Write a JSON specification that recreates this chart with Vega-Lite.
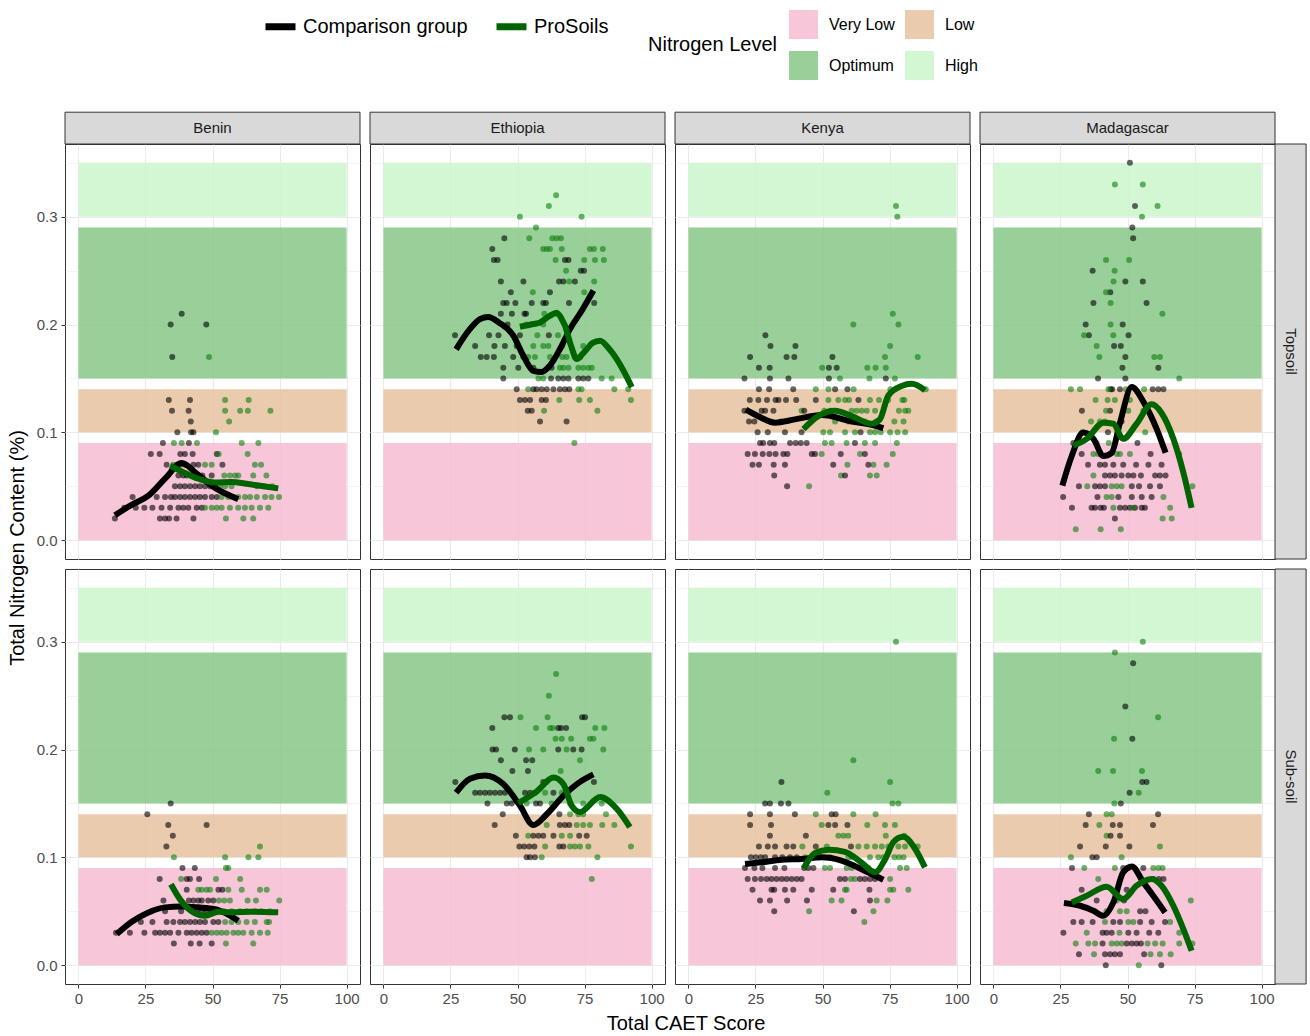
{
"$schema": "https://vega.github.io/schema/vega-lite/v6.json",
"padding": {"left": 7, "top": 8, "right": 2, "bottom": 2},
"config": {
 "font": "Liberation Sans",
 "view": {"stroke": "#333333", "strokeWidth": 1},
 "axis": {"domain": false, "grid": true, "gridColor": "#EBEBEB", "tickColor": "#333333", "tickSize": 4, "tickWidth": 1, "labelColor": "#4D4D4D", "labelFontSize": 15, "titleFontSize": 20, "titleFontWeight": "normal", "titleColor": "#000000"},
 "axisX": {"labelPadding": 3, "labelFlush": false},
 "axisY": {"labelPadding": 4},
 "header": {"titleFontSize": 20, "titleFontWeight": "normal", "titleColor": "#000000", "titleFont": "Liberation Sans", "labelPadding": 0},
 "legend": {"labelFont": "Liberation Sans", "labelColor": "#000000", "titleColor": "#000000"}
},
"spacing": {"row": 10, "column": 10},
"bounds": "flush",
"data": {"values": [
{"t":"st","c":"B","s":"T","lab":"Benin"},{"t":"st","c":"E","s":"T","lab":"Ethiopia"},{"t":"st","c":"K","s":"T","lab":"Kenya"},{"t":"st","c":"M","s":"T","lab":"Madagascar"},
{"t":"sr","c":"M","s":"T","lab":"Topsoil"},{"t":"sr","c":"M","s":"S","lab":"Sub-soil"},
{"t":"b","c":"B","s":"T","lv":"Very Low","y1":0,"y2":0.09},{"t":"b","c":"B","s":"T","lv":"Low","y1":0.1,"y2":0.14},{"t":"b","c":"B","s":"T","lv":"Optimum","y1":0.15,"y2":0.29},{"t":"b","c":"B","s":"T","lv":"High","y1":0.3,"y2":0.35},
{"t":"b","c":"E","s":"T","lv":"Very Low","y1":0,"y2":0.09},{"t":"b","c":"E","s":"T","lv":"Low","y1":0.1,"y2":0.14},{"t":"b","c":"E","s":"T","lv":"Optimum","y1":0.15,"y2":0.29},{"t":"b","c":"E","s":"T","lv":"High","y1":0.3,"y2":0.35},
{"t":"b","c":"K","s":"T","lv":"Very Low","y1":0,"y2":0.09},{"t":"b","c":"K","s":"T","lv":"Low","y1":0.1,"y2":0.14},{"t":"b","c":"K","s":"T","lv":"Optimum","y1":0.15,"y2":0.29},{"t":"b","c":"K","s":"T","lv":"High","y1":0.3,"y2":0.35},
{"t":"b","c":"M","s":"T","lv":"Very Low","y1":0,"y2":0.09},{"t":"b","c":"M","s":"T","lv":"Low","y1":0.1,"y2":0.14},{"t":"b","c":"M","s":"T","lv":"Optimum","y1":0.15,"y2":0.29},{"t":"b","c":"M","s":"T","lv":"High","y1":0.3,"y2":0.35},
{"t":"b","c":"B","s":"S","lv":"Very Low","y1":0,"y2":0.09},{"t":"b","c":"B","s":"S","lv":"Low","y1":0.1,"y2":0.14},{"t":"b","c":"B","s":"S","lv":"Optimum","y1":0.15,"y2":0.29},{"t":"b","c":"B","s":"S","lv":"High","y1":0.3,"y2":0.35},
{"t":"b","c":"E","s":"S","lv":"Very Low","y1":0,"y2":0.09},{"t":"b","c":"E","s":"S","lv":"Low","y1":0.1,"y2":0.14},{"t":"b","c":"E","s":"S","lv":"Optimum","y1":0.15,"y2":0.29},{"t":"b","c":"E","s":"S","lv":"High","y1":0.3,"y2":0.35},
{"t":"b","c":"K","s":"S","lv":"Very Low","y1":0,"y2":0.09},{"t":"b","c":"K","s":"S","lv":"Low","y1":0.1,"y2":0.14},{"t":"b","c":"K","s":"S","lv":"Optimum","y1":0.15,"y2":0.29},{"t":"b","c":"K","s":"S","lv":"High","y1":0.3,"y2":0.35},
{"t":"b","c":"M","s":"S","lv":"Very Low","y1":0,"y2":0.09},{"t":"b","c":"M","s":"S","lv":"Low","y1":0.1,"y2":0.14},{"t":"b","c":"M","s":"S","lv":"Optimum","y1":0.15,"y2":0.29},{"t":"b","c":"M","s":"S","lv":"High","y1":0.3,"y2":0.35},

{"t":"l","c":"B","s":"T","g":"C","x":13.6,"y":0.023},{"t":"l","c":"B","s":"T","g":"C","x":20,"y":0.033},{"t":"l","c":"B","s":"T","g":"C","x":26,"y":0.041},{"t":"l","c":"B","s":"T","g":"C","x":32.3,"y":0.057},{"t":"l","c":"B","s":"T","g":"C","x":38.5,"y":0.0715},{"t":"l","c":"B","s":"T","g":"C","x":44,"y":0.062},{"t":"l","c":"B","s":"T","g":"C","x":50,"y":0.05},{"t":"l","c":"B","s":"T","g":"C","x":59.6,"y":0.038},
{"t":"l","c":"B","s":"T","g":"P","x":34.2,"y":0.069},{"t":"l","c":"B","s":"T","g":"P","x":40,"y":0.062},{"t":"l","c":"B","s":"T","g":"P","x":44.7,"y":0.057},{"t":"l","c":"B","s":"T","g":"P","x":50.9,"y":0.0535},{"t":"l","c":"B","s":"T","g":"P","x":57,"y":0.054},{"t":"l","c":"B","s":"T","g":"P","x":63.4,"y":0.052},{"t":"l","c":"B","s":"T","g":"P","x":69,"y":0.05},{"t":"l","c":"B","s":"T","g":"P","x":74.5,"y":0.048},
{"t":"l","c":"E","s":"T","g":"C","x":27.1,"y":0.177},{"t":"l","c":"E","s":"T","g":"C","x":32,"y":0.195},{"t":"l","c":"E","s":"T","g":"C","x":36,"y":0.205},{"t":"l","c":"E","s":"T","g":"C","x":39.1,"y":0.207},{"t":"l","c":"E","s":"T","g":"C","x":43,"y":0.202},{"t":"l","c":"E","s":"T","g":"C","x":48.4,"y":0.19},{"t":"l","c":"E","s":"T","g":"C","x":52,"y":0.172},{"t":"l","c":"E","s":"T","g":"C","x":55.9,"y":0.157},{"t":"l","c":"E","s":"T","g":"C","x":59,"y":0.156},{"t":"l","c":"E","s":"T","g":"C","x":62.1,"y":0.162},{"t":"l","c":"E","s":"T","g":"C","x":66,"y":0.178},{"t":"l","c":"E","s":"T","g":"C","x":69.6,"y":0.196},{"t":"l","c":"E","s":"T","g":"C","x":74,"y":0.213},{"t":"l","c":"E","s":"T","g":"C","x":78.3,"y":0.2315},
{"t":"l","c":"E","s":"T","g":"P","x":50.9,"y":0.198},{"t":"l","c":"E","s":"T","g":"P","x":55,"y":0.2},{"t":"l","c":"E","s":"T","g":"P","x":58.4,"y":0.202},{"t":"l","c":"E","s":"T","g":"P","x":62,"y":0.208},{"t":"l","c":"E","s":"T","g":"P","x":64.6,"y":0.211},{"t":"l","c":"E","s":"T","g":"P","x":66.5,"y":0.205},{"t":"l","c":"E","s":"T","g":"P","x":67.7,"y":0.199},{"t":"l","c":"E","s":"T","g":"P","x":70,"y":0.18},{"t":"l","c":"E","s":"T","g":"P","x":72.1,"y":0.168},{"t":"l","c":"E","s":"T","g":"P","x":74,"y":0.172},{"t":"l","c":"E","s":"T","g":"P","x":75.8,"y":0.177},{"t":"l","c":"E","s":"T","g":"P","x":78,"y":0.183},{"t":"l","c":"E","s":"T","g":"P","x":80.8,"y":0.185},{"t":"l","c":"E","s":"T","g":"P","x":84,"y":0.178},{"t":"l","c":"E","s":"T","g":"P","x":87,"y":0.168},{"t":"l","c":"E","s":"T","g":"P","x":90,"y":0.155},{"t":"l","c":"E","s":"T","g":"P","x":92.6,"y":0.142},
{"t":"l","c":"K","s":"T","g":"C","x":21.4,"y":0.121},{"t":"l","c":"K","s":"T","g":"C","x":26,"y":0.115},{"t":"l","c":"K","s":"T","g":"C","x":32.3,"y":0.109},{"t":"l","c":"K","s":"T","g":"C","x":39.7,"y":0.112},{"t":"l","c":"K","s":"T","g":"C","x":49.7,"y":0.116},{"t":"l","c":"K","s":"T","g":"C","x":60.9,"y":0.11},{"t":"l","c":"K","s":"T","g":"C","x":68.3,"y":0.107},{"t":"l","c":"K","s":"T","g":"C","x":72.7,"y":0.104},
{"t":"l","c":"K","s":"T","g":"P","x":42.9,"y":0.103},{"t":"l","c":"K","s":"T","g":"P","x":48.4,"y":0.115},{"t":"l","c":"K","s":"T","g":"P","x":54.7,"y":0.12},{"t":"l","c":"K","s":"T","g":"P","x":60.9,"y":0.115},{"t":"l","c":"K","s":"T","g":"P","x":68.3,"y":0.108},{"t":"l","c":"K","s":"T","g":"P","x":71.4,"y":0.112},{"t":"l","c":"K","s":"T","g":"P","x":74.5,"y":0.134},{"t":"l","c":"K","s":"T","g":"P","x":79.5,"y":0.143},{"t":"l","c":"K","s":"T","g":"P","x":83.3,"y":0.145},{"t":"l","c":"K","s":"T","g":"P","x":88.2,"y":0.139},
{"t":"l","c":"M","s":"T","g":"C","x":25.7,"y":0.0505},{"t":"l","c":"M","s":"T","g":"C","x":29.2,"y":0.078},{"t":"l","c":"M","s":"T","g":"C","x":33.5,"y":0.0998},{"t":"l","c":"M","s":"T","g":"C","x":37.3,"y":0.094},{"t":"l","c":"M","s":"T","g":"C","x":41,"y":0.078},{"t":"l","c":"M","s":"T","g":"C","x":44.1,"y":0.081},{"t":"l","c":"M","s":"T","g":"C","x":47.2,"y":0.109},{"t":"l","c":"M","s":"T","g":"C","x":51.6,"y":0.142},{"t":"l","c":"M","s":"T","g":"C","x":56,"y":0.128},{"t":"l","c":"M","s":"T","g":"C","x":60.9,"y":0.103},{"t":"l","c":"M","s":"T","g":"C","x":64.2,"y":0.081},
{"t":"l","c":"M","s":"T","g":"P","x":29.8,"y":0.0876},{"t":"l","c":"M","s":"T","g":"P","x":34.8,"y":0.094},{"t":"l","c":"M","s":"T","g":"P","x":41,"y":0.109},{"t":"l","c":"M","s":"T","g":"P","x":44.7,"y":0.108},{"t":"l","c":"M","s":"T","g":"P","x":48.4,"y":0.094},{"t":"l","c":"M","s":"T","g":"P","x":53.4,"y":0.108},{"t":"l","c":"M","s":"T","g":"P","x":59,"y":0.126},{"t":"l","c":"M","s":"T","g":"P","x":62.7,"y":0.118},{"t":"l","c":"M","s":"T","g":"P","x":67.1,"y":0.094},{"t":"l","c":"M","s":"T","g":"P","x":70.8,"y":0.063},{"t":"l","c":"M","s":"T","g":"P","x":73.9,"y":0.03},
{"t":"l","c":"B","s":"S","g":"C","x":14.3,"y":0.0288},{"t":"l","c":"B","s":"S","g":"C","x":19.9,"y":0.0402},{"t":"l","c":"B","s":"S","g":"C","x":26.1,"y":0.0489},{"t":"l","c":"B","s":"S","g":"C","x":32.3,"y":0.0536},{"t":"l","c":"B","s":"S","g":"C","x":38.5,"y":0.0545},{"t":"l","c":"B","s":"S","g":"C","x":44.7,"y":0.0536},{"t":"l","c":"B","s":"S","g":"C","x":50.9,"y":0.052},{"t":"l","c":"B","s":"S","g":"C","x":55,"y":0.048},{"t":"l","c":"B","s":"S","g":"C","x":59.6,"y":0.0412},
{"t":"l","c":"B","s":"S","g":"P","x":34.5,"y":0.075},{"t":"l","c":"B","s":"S","g":"P","x":37.9,"y":0.061},{"t":"l","c":"B","s":"S","g":"P","x":42.2,"y":0.05},{"t":"l","c":"B","s":"S","g":"P","x":47.2,"y":0.0458},{"t":"l","c":"B","s":"S","g":"P","x":52.2,"y":0.0496},{"t":"l","c":"B","s":"S","g":"P","x":57.1,"y":0.049},{"t":"l","c":"B","s":"S","g":"P","x":64.6,"y":0.0496},{"t":"l","c":"B","s":"S","g":"P","x":74.5,"y":0.049},
{"t":"l","c":"E","s":"S","g":"C","x":27.1,"y":0.16},{"t":"l","c":"E","s":"S","g":"C","x":32.3,"y":0.173},{"t":"l","c":"E","s":"S","g":"C","x":37.9,"y":0.176},{"t":"l","c":"E","s":"S","g":"C","x":44.7,"y":0.168},{"t":"l","c":"E","s":"S","g":"C","x":50.9,"y":0.148},{"t":"l","c":"E","s":"S","g":"C","x":55.9,"y":0.13},{"t":"l","c":"E","s":"S","g":"C","x":60.9,"y":0.14},{"t":"l","c":"E","s":"S","g":"C","x":67.1,"y":0.157},{"t":"l","c":"E","s":"S","g":"C","x":73.3,"y":0.17},{"t":"l","c":"E","s":"S","g":"C","x":78.3,"y":0.177},
{"t":"l","c":"E","s":"S","g":"P","x":50.3,"y":0.1504},{"t":"l","c":"E","s":"S","g":"P","x":57.1,"y":0.161},{"t":"l","c":"E","s":"S","g":"P","x":63.4,"y":0.174},{"t":"l","c":"E","s":"S","g":"P","x":67.1,"y":0.168},{"t":"l","c":"E","s":"S","g":"P","x":70.2,"y":0.148},{"t":"l","c":"E","s":"S","g":"P","x":73.3,"y":0.142},{"t":"l","c":"E","s":"S","g":"P","x":80.8,"y":0.156},{"t":"l","c":"E","s":"S","g":"P","x":87,"y":0.145},{"t":"l","c":"E","s":"S","g":"P","x":91.9,"y":0.128},
{"t":"l","c":"K","s":"S","g":"C","x":21.1,"y":0.0938},{"t":"l","c":"K","s":"S","g":"C","x":27.3,"y":0.0954},{"t":"l","c":"K","s":"S","g":"C","x":34.8,"y":0.0978},{"t":"l","c":"K","s":"S","g":"C","x":42.2,"y":0.0984},{"t":"l","c":"K","s":"S","g":"C","x":49.7,"y":0.1},{"t":"l","c":"K","s":"S","g":"C","x":57.1,"y":0.097},{"t":"l","c":"K","s":"S","g":"C","x":64.6,"y":0.089},{"t":"l","c":"K","s":"S","g":"C","x":72.7,"y":0.0792},
{"t":"l","c":"K","s":"S","g":"P","x":42.9,"y":0.0897},{"t":"l","c":"K","s":"S","g":"P","x":47.2,"y":0.104},{"t":"l","c":"K","s":"S","g":"P","x":52.2,"y":0.107},{"t":"l","c":"K","s":"S","g":"P","x":58.4,"y":0.105},{"t":"l","c":"K","s":"S","g":"P","x":64.6,"y":0.095},{"t":"l","c":"K","s":"S","g":"P","x":69.6,"y":0.0862},{"t":"l","c":"K","s":"S","g":"P","x":73.3,"y":0.098},{"t":"l","c":"K","s":"S","g":"P","x":76.4,"y":0.114},{"t":"l","c":"K","s":"S","g":"P","x":80.1,"y":0.119},{"t":"l","c":"K","s":"S","g":"P","x":84.5,"y":0.108},{"t":"l","c":"K","s":"S","g":"P","x":88.2,"y":0.0907},
{"t":"l","c":"M","s":"S","g":"C","x":26.3,"y":0.0576},{"t":"l","c":"M","s":"S","g":"C","x":32.3,"y":0.0551},{"t":"l","c":"M","s":"S","g":"C","x":37.3,"y":0.0505},{"t":"l","c":"M","s":"S","g":"C","x":41,"y":0.0458},{"t":"l","c":"M","s":"S","g":"C","x":44.7,"y":0.058},{"t":"l","c":"M","s":"S","g":"C","x":48.4,"y":0.0861},{"t":"l","c":"M","s":"S","g":"C","x":51.6,"y":0.0916},{"t":"l","c":"M","s":"S","g":"C","x":55.9,"y":0.0768},{"t":"l","c":"M","s":"S","g":"C","x":59.6,"y":0.0644},{"t":"l","c":"M","s":"S","g":"C","x":64,"y":0.0489},
{"t":"l","c":"M","s":"S","g":"P","x":29.2,"y":0.0582},{"t":"l","c":"M","s":"S","g":"P","x":34.8,"y":0.0644},{"t":"l","c":"M","s":"S","g":"P","x":42.2,"y":0.0727},{"t":"l","c":"M","s":"S","g":"P","x":48.4,"y":0.0613},{"t":"l","c":"M","s":"S","g":"P","x":53.4,"y":0.0737},{"t":"l","c":"M","s":"S","g":"P","x":59,"y":0.0799},{"t":"l","c":"M","s":"S","g":"P","x":62.7,"y":0.0737},{"t":"l","c":"M","s":"S","g":"P","x":67.1,"y":0.0551},{"t":"l","c":"M","s":"S","g":"P","x":70.8,"y":0.0337},{"t":"l","c":"M","s":"S","g":"P","x":73.9,"y":0.0134},

{"c":"B","s":"T","g":"C","x":38.5,"y":0.21},{"c":"B","s":"T","g":"C","x":34.4,"y":0.2},{"c":"B","s":"T","g":"C","x":47.7,"y":0.2},{"c":"B","s":"T","g":"C","x":35,"y":0.17},{"c":"B","s":"T","g":"C","x":33.7,"y":0.13},{"c":"B","s":"T","g":"C","x":41.6,"y":0.13},{"c":"B","s":"T","g":"C","x":34.9,"y":0.12},{"c":"B","s":"T","g":"C","x":41.1,"y":0.12},{"c":"B","s":"T","g":"C","x":41.9,"y":0.11},{"c":"B","s":"T","g":"C","x":36.9,"y":0.1},{"c":"B","s":"T","g":"C","x":42,"y":0.1},{"c":"B","s":"T","g":"C","x":42.9,"y":0.1},{"c":"B","s":"T","g":"C","x":31.5,"y":0.09},{"c":"B","s":"T","g":"C","x":41.2,"y":0.09},{"c":"B","s":"T","g":"C","x":27,"y":0.08},{"c":"B","s":"T","g":"C","x":30.3,"y":0.08},{"c":"B","s":"T","g":"C","x":38,"y":0.08},{"c":"B","s":"T","g":"C","x":39.7,"y":0.08},{"c":"B","s":"T","g":"C","x":42.6,"y":0.08},{"c":"B","s":"T","g":"C","x":51.6,"y":0.08},{"c":"B","s":"T","g":"C","x":32.9,"y":0.07},{"c":"B","s":"T","g":"C","x":37.9,"y":0.07},{"c":"B","s":"T","g":"C","x":39.7,"y":0.07},{"c":"B","s":"T","g":"C","x":42.9,"y":0.07},{"c":"B","s":"T","g":"C","x":44.7,"y":0.07},{"c":"B","s":"T","g":"C","x":53.7,"y":0.07},{"c":"B","s":"T","g":"C","x":37.3,"y":0.06},{"c":"B","s":"T","g":"C","x":39.1,"y":0.06},{"c":"B","s":"T","g":"C","x":40.4,"y":0.06},{"c":"B","s":"T","g":"C","x":44.1,"y":0.06},{"c":"B","s":"T","g":"C","x":46.2,"y":0.06},{"c":"B","s":"T","g":"C","x":49.7,"y":0.06},{"c":"B","s":"T","g":"C","x":36,"y":0.05},{"c":"B","s":"T","g":"C","x":37.9,"y":0.05},{"c":"B","s":"T","g":"C","x":39.7,"y":0.05},{"c":"B","s":"T","g":"C","x":41.6,"y":0.05},{"c":"B","s":"T","g":"C","x":43.5,"y":0.05},{"c":"B","s":"T","g":"C","x":45.3,"y":0.05},{"c":"B","s":"T","g":"C","x":47.2,"y":0.05},{"c":"B","s":"T","g":"C","x":49.1,"y":0.05},{"c":"B","s":"T","g":"C","x":50.9,"y":0.05},{"c":"B","s":"T","g":"C","x":20.2,"y":0.04},{"c":"B","s":"T","g":"C","x":29.2,"y":0.04},{"c":"B","s":"T","g":"C","x":32.3,"y":0.04},{"c":"B","s":"T","g":"C","x":34.5,"y":0.04},{"c":"B","s":"T","g":"C","x":36,"y":0.04},{"c":"B","s":"T","g":"C","x":37.9,"y":0.04},{"c":"B","s":"T","g":"C","x":39.7,"y":0.04},{"c":"B","s":"T","g":"C","x":41.6,"y":0.04},{"c":"B","s":"T","g":"C","x":43.5,"y":0.04},{"c":"B","s":"T","g":"C","x":45.3,"y":0.04},{"c":"B","s":"T","g":"C","x":47.2,"y":0.04},{"c":"B","s":"T","g":"C","x":49.7,"y":0.04},{"c":"B","s":"T","g":"C","x":51.6,"y":0.04},{"c":"B","s":"T","g":"C","x":17.1,"y":0.03},{"c":"B","s":"T","g":"C","x":21.4,"y":0.03},{"c":"B","s":"T","g":"C","x":24.6,"y":0.03},{"c":"B","s":"T","g":"C","x":27.6,"y":0.03},{"c":"B","s":"T","g":"C","x":31,"y":0.03},{"c":"B","s":"T","g":"C","x":34.2,"y":0.03},{"c":"B","s":"T","g":"C","x":37.3,"y":0.03},{"c":"B","s":"T","g":"C","x":39.1,"y":0.03},{"c":"B","s":"T","g":"C","x":41,"y":0.03},{"c":"B","s":"T","g":"C","x":44.1,"y":0.03},{"c":"B","s":"T","g":"C","x":46,"y":0.03},{"c":"B","s":"T","g":"C","x":13.6,"y":0.02},{"c":"B","s":"T","g":"C","x":30.4,"y":0.02},{"c":"B","s":"T","g":"C","x":32.3,"y":0.02},{"c":"B","s":"T","g":"C","x":33.8,"y":0.02},{"c":"B","s":"T","g":"C","x":36.6,"y":0.02},{"c":"B","s":"T","g":"C","x":42.9,"y":0.02},
{"c":"B","s":"T","g":"P","x":48.7,"y":0.17},{"c":"B","s":"T","g":"P","x":54.7,"y":0.13},{"c":"B","s":"T","g":"P","x":63.5,"y":0.13},{"c":"B","s":"T","g":"P","x":54.7,"y":0.12},{"c":"B","s":"T","g":"P","x":60.3,"y":0.12},{"c":"B","s":"T","g":"P","x":63.2,"y":0.12},{"c":"B","s":"T","g":"P","x":71.6,"y":0.12},{"c":"B","s":"T","g":"P","x":56.2,"y":0.11},{"c":"B","s":"T","g":"P","x":51.3,"y":0.1},{"c":"B","s":"T","g":"P","x":35.6,"y":0.09},{"c":"B","s":"T","g":"P","x":38.5,"y":0.09},{"c":"B","s":"T","g":"P","x":44.2,"y":0.09},{"c":"B","s":"T","g":"P","x":60.9,"y":0.09},{"c":"B","s":"T","g":"P","x":67.1,"y":0.09},{"c":"B","s":"T","g":"P","x":52.3,"y":0.08},{"c":"B","s":"T","g":"P","x":63.1,"y":0.08},{"c":"B","s":"T","g":"P","x":35.4,"y":0.07},{"c":"B","s":"T","g":"P","x":47.2,"y":0.07},{"c":"B","s":"T","g":"P","x":49.7,"y":0.07},{"c":"B","s":"T","g":"P","x":65.8,"y":0.07},{"c":"B","s":"T","g":"P","x":68.1,"y":0.07},{"c":"B","s":"T","g":"P","x":54.4,"y":0.06},{"c":"B","s":"T","g":"P","x":56.5,"y":0.06},{"c":"B","s":"T","g":"P","x":58.4,"y":0.06},{"c":"B","s":"T","g":"P","x":59.6,"y":0.06},{"c":"B","s":"T","g":"P","x":65.2,"y":0.06},{"c":"B","s":"T","g":"P","x":70.1,"y":0.06},{"c":"B","s":"T","g":"P","x":52.8,"y":0.05},{"c":"B","s":"T","g":"P","x":54.7,"y":0.05},{"c":"B","s":"T","g":"P","x":57.1,"y":0.05},{"c":"B","s":"T","g":"P","x":66.5,"y":0.05},{"c":"B","s":"T","g":"P","x":69.1,"y":0.05},{"c":"B","s":"T","g":"P","x":72.3,"y":0.05},{"c":"B","s":"T","g":"P","x":53.4,"y":0.04},{"c":"B","s":"T","g":"P","x":55.9,"y":0.04},{"c":"B","s":"T","g":"P","x":57.8,"y":0.04},{"c":"B","s":"T","g":"P","x":59.6,"y":0.04},{"c":"B","s":"T","g":"P","x":62.1,"y":0.04},{"c":"B","s":"T","g":"P","x":64,"y":0.04},{"c":"B","s":"T","g":"P","x":66.5,"y":0.04},{"c":"B","s":"T","g":"P","x":69.6,"y":0.04},{"c":"B","s":"T","g":"P","x":72,"y":0.04},{"c":"B","s":"T","g":"P","x":74.8,"y":0.04},{"c":"B","s":"T","g":"P","x":47.2,"y":0.03},{"c":"B","s":"T","g":"P","x":49.7,"y":0.03},{"c":"B","s":"T","g":"P","x":51.6,"y":0.03},{"c":"B","s":"T","g":"P","x":53.4,"y":0.03},{"c":"B","s":"T","g":"P","x":56.5,"y":0.03},{"c":"B","s":"T","g":"P","x":59.6,"y":0.03},{"c":"B","s":"T","g":"P","x":62.1,"y":0.03},{"c":"B","s":"T","g":"P","x":64.6,"y":0.03},{"c":"B","s":"T","g":"P","x":67.7,"y":0.03},{"c":"B","s":"T","g":"P","x":70.8,"y":0.03},{"c":"B","s":"T","g":"P","x":55,"y":0.02},{"c":"B","s":"T","g":"P","x":61.5,"y":0.02},{"c":"B","s":"T","g":"P","x":65.2,"y":0.02},

{"c":"E","s":"T","g":"P","x":64.4,"y":0.32},{"c":"E","s":"T","g":"P","x":61.7,"y":0.31},{"c":"E","s":"T","g":"P","x":50.9,"y":0.3},{"c":"E","s":"T","g":"P","x":73.9,"y":0.3},{"c":"E","s":"T","g":"P","x":56.9,"y":0.29},{"c":"E","s":"T","g":"P","x":54.4,"y":0.28},{"c":"E","s":"T","g":"P","x":63,"y":0.28},{"c":"E","s":"T","g":"P","x":64.6,"y":0.28},{"c":"E","s":"T","g":"P","x":66.2,"y":0.28},{"c":"E","s":"T","g":"P","x":59.6,"y":0.27},{"c":"E","s":"T","g":"P","x":60.9,"y":0.27},{"c":"E","s":"T","g":"P","x":62.1,"y":0.27},{"c":"E","s":"T","g":"P","x":66.5,"y":0.27},{"c":"E","s":"T","g":"P","x":77,"y":0.27},{"c":"E","s":"T","g":"P","x":78.5,"y":0.27},{"c":"E","s":"T","g":"P","x":81.8,"y":0.27},{"c":"E","s":"T","g":"P","x":64.2,"y":0.26},{"c":"E","s":"T","g":"P","x":74.9,"y":0.26},{"c":"E","s":"T","g":"P","x":78.9,"y":0.26},{"c":"E","s":"T","g":"P","x":82.2,"y":0.26},{"c":"E","s":"T","g":"P","x":68.1,"y":0.25},{"c":"E","s":"T","g":"P","x":69.3,"y":0.24},{"c":"E","s":"T","g":"P","x":78.6,"y":0.24},{"c":"E","s":"T","g":"P","x":55.7,"y":0.23},{"c":"E","s":"T","g":"P","x":74.9,"y":0.23},{"c":"E","s":"T","g":"P","x":60,"y":0.21},{"c":"E","s":"T","g":"P","x":64.6,"y":0.21},{"c":"E","s":"T","g":"P","x":53.4,"y":0.2},{"c":"E","s":"T","g":"P","x":59.6,"y":0.2},{"c":"E","s":"T","g":"P","x":57.4,"y":0.19},{"c":"E","s":"T","g":"P","x":65.1,"y":0.19},{"c":"E","s":"T","g":"P","x":55.9,"y":0.18},{"c":"E","s":"T","g":"P","x":59.6,"y":0.18},{"c":"E","s":"T","g":"P","x":61.5,"y":0.18},{"c":"E","s":"T","g":"P","x":66.7,"y":0.18},{"c":"E","s":"T","g":"P","x":74.5,"y":0.18},{"c":"E","s":"T","g":"P","x":54,"y":0.17},{"c":"E","s":"T","g":"P","x":56.5,"y":0.17},{"c":"E","s":"T","g":"P","x":62.1,"y":0.17},{"c":"E","s":"T","g":"P","x":66.7,"y":0.17},{"c":"E","s":"T","g":"P","x":68.3,"y":0.17},{"c":"E","s":"T","g":"P","x":73.5,"y":0.17},{"c":"E","s":"T","g":"P","x":65.8,"y":0.16},{"c":"E","s":"T","g":"P","x":67.1,"y":0.16},{"c":"E","s":"T","g":"P","x":69,"y":0.16},{"c":"E","s":"T","g":"P","x":72.7,"y":0.16},{"c":"E","s":"T","g":"P","x":74.5,"y":0.16},{"c":"E","s":"T","g":"P","x":76.4,"y":0.16},{"c":"E","s":"T","g":"P","x":77.7,"y":0.16},{"c":"E","s":"T","g":"P","x":57.8,"y":0.15},{"c":"E","s":"T","g":"P","x":59.6,"y":0.15},{"c":"E","s":"T","g":"P","x":81.4,"y":0.15},{"c":"E","s":"T","g":"P","x":85.1,"y":0.15},{"c":"E","s":"T","g":"P","x":54,"y":0.14},{"c":"E","s":"T","g":"P","x":72.7,"y":0.14},{"c":"E","s":"T","g":"P","x":73.9,"y":0.14},{"c":"E","s":"T","g":"P","x":86.1,"y":0.14},{"c":"E","s":"T","g":"P","x":91.3,"y":0.14},{"c":"E","s":"T","g":"P","x":65.6,"y":0.13},{"c":"E","s":"T","g":"P","x":73,"y":0.13},{"c":"E","s":"T","g":"P","x":77,"y":0.13},{"c":"E","s":"T","g":"P","x":92.3,"y":0.13},{"c":"E","s":"T","g":"P","x":59.9,"y":0.12},{"c":"E","s":"T","g":"P","x":79.8,"y":0.12},{"c":"E","s":"T","g":"P","x":71.2,"y":0.09},
{"c":"E","s":"T","g":"C","x":45.1,"y":0.28},{"c":"E","s":"T","g":"C","x":40.6,"y":0.27},{"c":"E","s":"T","g":"C","x":41.2,"y":0.26},{"c":"E","s":"T","g":"C","x":42.6,"y":0.26},{"c":"E","s":"T","g":"C","x":67.7,"y":0.26},{"c":"E","s":"T","g":"C","x":69,"y":0.26},{"c":"E","s":"T","g":"C","x":73.6,"y":0.25},{"c":"E","s":"T","g":"C","x":74.8,"y":0.25},{"c":"E","s":"T","g":"C","x":43.8,"y":0.24},{"c":"E","s":"T","g":"C","x":52.2,"y":0.24},{"c":"E","s":"T","g":"C","x":65.5,"y":0.24},{"c":"E","s":"T","g":"C","x":67.1,"y":0.24},{"c":"E","s":"T","g":"C","x":71.4,"y":0.24},{"c":"E","s":"T","g":"C","x":47.5,"y":0.23},{"c":"E","s":"T","g":"C","x":62.1,"y":0.23},{"c":"E","s":"T","g":"C","x":44.7,"y":0.22},{"c":"E","s":"T","g":"C","x":46,"y":0.22},{"c":"E","s":"T","g":"C","x":49.2,"y":0.22},{"c":"E","s":"T","g":"C","x":55.3,"y":0.22},{"c":"E","s":"T","g":"C","x":59.6,"y":0.22},{"c":"E","s":"T","g":"C","x":60.6,"y":0.22},{"c":"E","s":"T","g":"C","x":69.2,"y":0.22},{"c":"E","s":"T","g":"C","x":78.6,"y":0.22},{"c":"E","s":"T","g":"C","x":43.8,"y":0.21},{"c":"E","s":"T","g":"C","x":47.9,"y":0.21},{"c":"E","s":"T","g":"C","x":52.6,"y":0.21},{"c":"E","s":"T","g":"C","x":53.2,"y":0.21},{"c":"E","s":"T","g":"C","x":46.3,"y":0.2},{"c":"E","s":"T","g":"C","x":26.7,"y":0.19},{"c":"E","s":"T","g":"C","x":39.4,"y":0.19},{"c":"E","s":"T","g":"C","x":42.9,"y":0.19},{"c":"E","s":"T","g":"C","x":50.9,"y":0.19},{"c":"E","s":"T","g":"C","x":61.7,"y":0.19},{"c":"E","s":"T","g":"C","x":34.2,"y":0.18},{"c":"E","s":"T","g":"C","x":41.4,"y":0.18},{"c":"E","s":"T","g":"C","x":45.3,"y":0.18},{"c":"E","s":"T","g":"C","x":49.7,"y":0.18},{"c":"E","s":"T","g":"C","x":36.3,"y":0.17},{"c":"E","s":"T","g":"C","x":38.5,"y":0.17},{"c":"E","s":"T","g":"C","x":41.2,"y":0.17},{"c":"E","s":"T","g":"C","x":48.4,"y":0.17},{"c":"E","s":"T","g":"C","x":52.2,"y":0.17},{"c":"E","s":"T","g":"C","x":71.4,"y":0.17},{"c":"E","s":"T","g":"C","x":44.7,"y":0.16},{"c":"E","s":"T","g":"C","x":50.3,"y":0.16},{"c":"E","s":"T","g":"C","x":55.9,"y":0.16},{"c":"E","s":"T","g":"C","x":62.7,"y":0.16},{"c":"E","s":"T","g":"C","x":44.7,"y":0.15},{"c":"E","s":"T","g":"C","x":62.5,"y":0.15},{"c":"E","s":"T","g":"C","x":65.2,"y":0.15},{"c":"E","s":"T","g":"C","x":67.1,"y":0.15},{"c":"E","s":"T","g":"C","x":69,"y":0.15},{"c":"E","s":"T","g":"C","x":72.7,"y":0.15},{"c":"E","s":"T","g":"C","x":74.5,"y":0.15},{"c":"E","s":"T","g":"C","x":76.4,"y":0.15},{"c":"E","s":"T","g":"C","x":49.7,"y":0.14},{"c":"E","s":"T","g":"C","x":55.9,"y":0.14},{"c":"E","s":"T","g":"C","x":57.1,"y":0.14},{"c":"E","s":"T","g":"C","x":59,"y":0.14},{"c":"E","s":"T","g":"C","x":60.9,"y":0.14},{"c":"E","s":"T","g":"C","x":63.4,"y":0.14},{"c":"E","s":"T","g":"C","x":65.8,"y":0.14},{"c":"E","s":"T","g":"C","x":67.7,"y":0.14},{"c":"E","s":"T","g":"C","x":69.3,"y":0.14},{"c":"E","s":"T","g":"C","x":50.9,"y":0.13},{"c":"E","s":"T","g":"C","x":52.8,"y":0.13},{"c":"E","s":"T","g":"C","x":54.7,"y":0.13},{"c":"E","s":"T","g":"C","x":59,"y":0.13},{"c":"E","s":"T","g":"C","x":60.6,"y":0.13},{"c":"E","s":"T","g":"C","x":53.8,"y":0.12},{"c":"E","s":"T","g":"C","x":55.3,"y":0.12},{"c":"E","s":"T","g":"C","x":58.4,"y":0.11},{"c":"E","s":"T","g":"C","x":68.3,"y":0.11},

{"c":"K","s":"T","g":"P","x":77.4,"y":0.31},{"c":"K","s":"T","g":"P","x":77.9,"y":0.3},{"c":"K","s":"T","g":"P","x":76.2,"y":0.21},{"c":"K","s":"T","g":"P","x":61.5,"y":0.2},{"c":"K","s":"T","g":"P","x":78.3,"y":0.2},{"c":"K","s":"T","g":"P","x":75.2,"y":0.18},{"c":"K","s":"T","g":"P","x":73.3,"y":0.17},{"c":"K","s":"T","g":"P","x":85.5,"y":0.17},{"c":"K","s":"T","g":"P","x":49.9,"y":0.16},{"c":"K","s":"T","g":"P","x":66.7,"y":0.16},{"c":"K","s":"T","g":"P","x":69.8,"y":0.16},{"c":"K","s":"T","g":"P","x":73.6,"y":0.16},{"c":"K","s":"T","g":"P","x":56.5,"y":0.15},{"c":"K","s":"T","g":"P","x":67.5,"y":0.15},{"c":"K","s":"T","g":"P","x":77,"y":0.15},{"c":"K","s":"T","g":"P","x":47.5,"y":0.14},{"c":"K","s":"T","g":"P","x":52.2,"y":0.14},{"c":"K","s":"T","g":"P","x":61.6,"y":0.14},{"c":"K","s":"T","g":"P","x":75.3,"y":0.14},{"c":"K","s":"T","g":"P","x":88.5,"y":0.14},{"c":"K","s":"T","g":"P","x":52.2,"y":0.13},{"c":"K","s":"T","g":"P","x":55.9,"y":0.13},{"c":"K","s":"T","g":"P","x":58.4,"y":0.13},{"c":"K","s":"T","g":"P","x":59.9,"y":0.13},{"c":"K","s":"T","g":"P","x":67.7,"y":0.13},{"c":"K","s":"T","g":"P","x":71.1,"y":0.13},{"c":"K","s":"T","g":"P","x":74.5,"y":0.13},{"c":"K","s":"T","g":"P","x":79.8,"y":0.13},{"c":"K","s":"T","g":"P","x":80.5,"y":0.13},{"c":"K","s":"T","g":"P","x":42.2,"y":0.12},{"c":"K","s":"T","g":"P","x":50.7,"y":0.12},{"c":"K","s":"T","g":"P","x":52.9,"y":0.12},{"c":"K","s":"T","g":"P","x":60.9,"y":0.12},{"c":"K","s":"T","g":"P","x":62.7,"y":0.12},{"c":"K","s":"T","g":"P","x":64.6,"y":0.12},{"c":"K","s":"T","g":"P","x":66.5,"y":0.12},{"c":"K","s":"T","g":"P","x":69.6,"y":0.12},{"c":"K","s":"T","g":"P","x":78.5,"y":0.12},{"c":"K","s":"T","g":"P","x":80.8,"y":0.12},{"c":"K","s":"T","g":"P","x":82,"y":0.12},{"c":"K","s":"T","g":"P","x":54.7,"y":0.11},{"c":"K","s":"T","g":"P","x":59.6,"y":0.11},{"c":"K","s":"T","g":"P","x":62.7,"y":0.11},{"c":"K","s":"T","g":"P","x":65.8,"y":0.11},{"c":"K","s":"T","g":"P","x":70,"y":0.11},{"c":"K","s":"T","g":"P","x":76.8,"y":0.11},{"c":"K","s":"T","g":"P","x":80.2,"y":0.11},{"c":"K","s":"T","g":"P","x":50.3,"y":0.1},{"c":"K","s":"T","g":"P","x":52.8,"y":0.1},{"c":"K","s":"T","g":"P","x":58.4,"y":0.1},{"c":"K","s":"T","g":"P","x":62.1,"y":0.1},{"c":"K","s":"T","g":"P","x":67.7,"y":0.1},{"c":"K","s":"T","g":"P","x":69.6,"y":0.1},{"c":"K","s":"T","g":"P","x":71.7,"y":0.1},{"c":"K","s":"T","g":"P","x":75.2,"y":0.1},{"c":"K","s":"T","g":"P","x":78,"y":0.1},{"c":"K","s":"T","g":"P","x":80.8,"y":0.1},{"c":"K","s":"T","g":"P","x":50.9,"y":0.09},{"c":"K","s":"T","g":"P","x":53.4,"y":0.09},{"c":"K","s":"T","g":"P","x":59,"y":0.09},{"c":"K","s":"T","g":"P","x":65.8,"y":0.09},{"c":"K","s":"T","g":"P","x":69.6,"y":0.09},{"c":"K","s":"T","g":"P","x":77.7,"y":0.09},{"c":"K","s":"T","g":"P","x":49.7,"y":0.08},{"c":"K","s":"T","g":"P","x":64,"y":0.08},{"c":"K","s":"T","g":"P","x":76.2,"y":0.08},{"c":"K","s":"T","g":"P","x":59.3,"y":0.07},{"c":"K","s":"T","g":"P","x":69,"y":0.07},{"c":"K","s":"T","g":"P","x":73.9,"y":0.07},{"c":"K","s":"T","g":"P","x":56.9,"y":0.06},{"c":"K","s":"T","g":"P","x":67.7,"y":0.06},{"c":"K","s":"T","g":"P","x":70.2,"y":0.06},{"c":"K","s":"T","g":"P","x":45,"y":0.05},
{"c":"K","s":"T","g":"C","x":28.7,"y":0.19},{"c":"K","s":"T","g":"C","x":30.6,"y":0.18},{"c":"K","s":"T","g":"C","x":39.9,"y":0.18},{"c":"K","s":"T","g":"C","x":23,"y":0.17},{"c":"K","s":"T","g":"C","x":36.6,"y":0.17},{"c":"K","s":"T","g":"C","x":39.5,"y":0.17},{"c":"K","s":"T","g":"C","x":53.7,"y":0.17},{"c":"K","s":"T","g":"C","x":26.3,"y":0.16},{"c":"K","s":"T","g":"C","x":30.3,"y":0.16},{"c":"K","s":"T","g":"C","x":52.4,"y":0.16},{"c":"K","s":"T","g":"C","x":55.3,"y":0.16},{"c":"K","s":"T","g":"C","x":20.9,"y":0.15},{"c":"K","s":"T","g":"C","x":30.4,"y":0.15},{"c":"K","s":"T","g":"C","x":37.3,"y":0.15},{"c":"K","s":"T","g":"C","x":52.4,"y":0.15},{"c":"K","s":"T","g":"C","x":73.6,"y":0.15},{"c":"K","s":"T","g":"C","x":26.3,"y":0.14},{"c":"K","s":"T","g":"C","x":30.1,"y":0.14},{"c":"K","s":"T","g":"C","x":39.1,"y":0.14},{"c":"K","s":"T","g":"C","x":54.7,"y":0.14},{"c":"K","s":"T","g":"C","x":59.3,"y":0.14},{"c":"K","s":"T","g":"C","x":22.9,"y":0.13},{"c":"K","s":"T","g":"C","x":26.1,"y":0.13},{"c":"K","s":"T","g":"C","x":29.3,"y":0.13},{"c":"K","s":"T","g":"C","x":32.5,"y":0.13},{"c":"K","s":"T","g":"C","x":33.6,"y":0.13},{"c":"K","s":"T","g":"C","x":36.4,"y":0.13},{"c":"K","s":"T","g":"C","x":40.2,"y":0.13},{"c":"K","s":"T","g":"C","x":47.5,"y":0.13},{"c":"K","s":"T","g":"C","x":63.4,"y":0.13},{"c":"K","s":"T","g":"C","x":20.9,"y":0.12},{"c":"K","s":"T","g":"C","x":27.3,"y":0.12},{"c":"K","s":"T","g":"C","x":28.6,"y":0.12},{"c":"K","s":"T","g":"C","x":31.7,"y":0.12},{"c":"K","s":"T","g":"C","x":43.2,"y":0.12},{"c":"K","s":"T","g":"C","x":22.6,"y":0.11},{"c":"K","s":"T","g":"C","x":24.6,"y":0.11},{"c":"K","s":"T","g":"C","x":34.5,"y":0.11},{"c":"K","s":"T","g":"C","x":25.8,"y":0.1},{"c":"K","s":"T","g":"C","x":29.6,"y":0.1},{"c":"K","s":"T","g":"C","x":36,"y":0.1},{"c":"K","s":"T","g":"C","x":42.2,"y":0.1},{"c":"K","s":"T","g":"C","x":64.2,"y":0.1},{"c":"K","s":"T","g":"C","x":26.7,"y":0.09},{"c":"K","s":"T","g":"C","x":27.9,"y":0.09},{"c":"K","s":"T","g":"C","x":30.4,"y":0.09},{"c":"K","s":"T","g":"C","x":32,"y":0.09},{"c":"K","s":"T","g":"C","x":37.9,"y":0.09},{"c":"K","s":"T","g":"C","x":40,"y":0.09},{"c":"K","s":"T","g":"C","x":41.9,"y":0.09},{"c":"K","s":"T","g":"C","x":44.1,"y":0.09},{"c":"K","s":"T","g":"C","x":62.1,"y":0.09},{"c":"K","s":"T","g":"C","x":22.1,"y":0.08},{"c":"K","s":"T","g":"C","x":24.8,"y":0.08},{"c":"K","s":"T","g":"C","x":27.7,"y":0.08},{"c":"K","s":"T","g":"C","x":30.2,"y":0.08},{"c":"K","s":"T","g":"C","x":32.5,"y":0.08},{"c":"K","s":"T","g":"C","x":35.4,"y":0.08},{"c":"K","s":"T","g":"C","x":36.9,"y":0.08},{"c":"K","s":"T","g":"C","x":46,"y":0.08},{"c":"K","s":"T","g":"C","x":47.2,"y":0.08},{"c":"K","s":"T","g":"C","x":56.8,"y":0.08},{"c":"K","s":"T","g":"C","x":65.8,"y":0.08},{"c":"K","s":"T","g":"C","x":23.9,"y":0.07},{"c":"K","s":"T","g":"C","x":26.3,"y":0.07},{"c":"K","s":"T","g":"C","x":31.8,"y":0.07},{"c":"K","s":"T","g":"C","x":36,"y":0.07},{"c":"K","s":"T","g":"C","x":54,"y":0.07},{"c":"K","s":"T","g":"C","x":67.1,"y":0.07},{"c":"K","s":"T","g":"C","x":32,"y":0.06},{"c":"K","s":"T","g":"C","x":58.4,"y":0.06},{"c":"K","s":"T","g":"C","x":36.8,"y":0.05},

{"c":"M","s":"T","g":"C","x":50.9,"y":0.35},{"c":"M","s":"T","g":"C","x":52.8,"y":0.31},{"c":"M","s":"T","g":"C","x":51.8,"y":0.29},{"c":"M","s":"T","g":"C","x":52.1,"y":0.28},{"c":"M","s":"T","g":"C","x":37,"y":0.25},{"c":"M","s":"T","g":"C","x":49.2,"y":0.24},{"c":"M","s":"T","g":"C","x":55.7,"y":0.24},{"c":"M","s":"T","g":"C","x":43.6,"y":0.23},{"c":"M","s":"T","g":"C","x":37.3,"y":0.22},{"c":"M","s":"T","g":"C","x":57.1,"y":0.22},{"c":"M","s":"T","g":"C","x":34.4,"y":0.2},{"c":"M","s":"T","g":"C","x":48.2,"y":0.2},{"c":"M","s":"T","g":"C","x":35.6,"y":0.19},{"c":"M","s":"T","g":"C","x":50.4,"y":0.19},{"c":"M","s":"T","g":"C","x":45,"y":0.18},{"c":"M","s":"T","g":"C","x":47.5,"y":0.18},{"c":"M","s":"T","g":"C","x":49.2,"y":0.17},{"c":"M","s":"T","g":"C","x":48.1,"y":0.16},{"c":"M","s":"T","g":"C","x":61.5,"y":0.16},{"c":"M","s":"T","g":"C","x":39,"y":0.15},{"c":"M","s":"T","g":"C","x":49.2,"y":0.15},{"c":"M","s":"T","g":"C","x":43.7,"y":0.14},{"c":"M","s":"T","g":"C","x":44.3,"y":0.14},{"c":"M","s":"T","g":"C","x":47.2,"y":0.14},{"c":"M","s":"T","g":"C","x":59.4,"y":0.14},{"c":"M","s":"T","g":"C","x":61.5,"y":0.14},{"c":"M","s":"T","g":"C","x":63.4,"y":0.14},{"c":"M","s":"T","g":"C","x":33,"y":0.12},{"c":"M","s":"T","g":"C","x":43.5,"y":0.12},{"c":"M","s":"T","g":"C","x":47.8,"y":0.11},{"c":"M","s":"T","g":"C","x":42.7,"y":0.1},{"c":"M","s":"T","g":"C","x":29.8,"y":0.09},{"c":"M","s":"T","g":"C","x":53.7,"y":0.09},{"c":"M","s":"T","g":"C","x":32.9,"y":0.08},{"c":"M","s":"T","g":"C","x":58.6,"y":0.08},{"c":"M","s":"T","g":"C","x":35.3,"y":0.07},{"c":"M","s":"T","g":"C","x":39.7,"y":0.07},{"c":"M","s":"T","g":"C","x":41.6,"y":0.07},{"c":"M","s":"T","g":"C","x":44.7,"y":0.07},{"c":"M","s":"T","g":"C","x":48.4,"y":0.07},{"c":"M","s":"T","g":"C","x":53.2,"y":0.07},{"c":"M","s":"T","g":"C","x":57.8,"y":0.07},{"c":"M","s":"T","g":"C","x":62.7,"y":0.07},{"c":"M","s":"T","g":"C","x":41.6,"y":0.06},{"c":"M","s":"T","g":"C","x":43.5,"y":0.06},{"c":"M","s":"T","g":"C","x":45.3,"y":0.06},{"c":"M","s":"T","g":"C","x":47.8,"y":0.06},{"c":"M","s":"T","g":"C","x":50.3,"y":0.06},{"c":"M","s":"T","g":"C","x":52.2,"y":0.06},{"c":"M","s":"T","g":"C","x":55,"y":0.06},{"c":"M","s":"T","g":"C","x":60.3,"y":0.06},{"c":"M","s":"T","g":"C","x":62.1,"y":0.06},{"c":"M","s":"T","g":"C","x":64.2,"y":0.06},{"c":"M","s":"T","g":"C","x":31.9,"y":0.05},{"c":"M","s":"T","g":"C","x":37.9,"y":0.05},{"c":"M","s":"T","g":"C","x":39.7,"y":0.05},{"c":"M","s":"T","g":"C","x":41.6,"y":0.05},{"c":"M","s":"T","g":"C","x":51.6,"y":0.05},{"c":"M","s":"T","g":"C","x":54.3,"y":0.05},{"c":"M","s":"T","g":"C","x":58.4,"y":0.05},{"c":"M","s":"T","g":"C","x":62.1,"y":0.05},{"c":"M","s":"T","g":"C","x":26,"y":0.04},{"c":"M","s":"T","g":"C","x":38.8,"y":0.04},{"c":"M","s":"T","g":"C","x":46.6,"y":0.04},{"c":"M","s":"T","g":"C","x":51.6,"y":0.04},{"c":"M","s":"T","g":"C","x":55.3,"y":0.04},{"c":"M","s":"T","g":"C","x":59,"y":0.04},{"c":"M","s":"T","g":"C","x":29.3,"y":0.03},{"c":"M","s":"T","g":"C","x":36.6,"y":0.03},{"c":"M","s":"T","g":"C","x":37.9,"y":0.03},{"c":"M","s":"T","g":"C","x":40,"y":0.03},{"c":"M","s":"T","g":"C","x":41.2,"y":0.03},{"c":"M","s":"T","g":"C","x":47.2,"y":0.03},{"c":"M","s":"T","g":"C","x":49.1,"y":0.03},{"c":"M","s":"T","g":"C","x":50.9,"y":0.03},{"c":"M","s":"T","g":"C","x":52.8,"y":0.03},{"c":"M","s":"T","g":"C","x":55.3,"y":0.03},{"c":"M","s":"T","g":"C","x":56.5,"y":0.03},{"c":"M","s":"T","g":"C","x":45.3,"y":0.02},
{"c":"M","s":"T","g":"P","x":45.3,"y":0.33},{"c":"M","s":"T","g":"P","x":55.7,"y":0.33},{"c":"M","s":"T","g":"P","x":61.2,"y":0.31},{"c":"M","s":"T","g":"P","x":55.4,"y":0.3},{"c":"M","s":"T","g":"P","x":42,"y":0.26},{"c":"M","s":"T","g":"P","x":50.6,"y":0.26},{"c":"M","s":"T","g":"P","x":45.2,"y":0.25},{"c":"M","s":"T","g":"P","x":44.8,"y":0.24},{"c":"M","s":"T","g":"P","x":42,"y":0.23},{"c":"M","s":"T","g":"P","x":43.7,"y":0.22},{"c":"M","s":"T","g":"P","x":63,"y":0.21},{"c":"M","s":"T","g":"P","x":43.7,"y":0.2},{"c":"M","s":"T","g":"P","x":33.8,"y":0.19},{"c":"M","s":"T","g":"P","x":44.7,"y":0.19},{"c":"M","s":"T","g":"P","x":38.5,"y":0.18},{"c":"M","s":"T","g":"P","x":39.5,"y":0.17},{"c":"M","s":"T","g":"P","x":60,"y":0.17},{"c":"M","s":"T","g":"P","x":62.1,"y":0.17},{"c":"M","s":"T","g":"P","x":69.3,"y":0.15},{"c":"M","s":"T","g":"P","x":28.9,"y":0.14},{"c":"M","s":"T","g":"P","x":32.3,"y":0.14},{"c":"M","s":"T","g":"P","x":42.9,"y":0.14},{"c":"M","s":"T","g":"P","x":49.4,"y":0.14},{"c":"M","s":"T","g":"P","x":56.2,"y":0.14},{"c":"M","s":"T","g":"P","x":38.1,"y":0.13},{"c":"M","s":"T","g":"P","x":42.6,"y":0.13},{"c":"M","s":"T","g":"P","x":45.3,"y":0.13},{"c":"M","s":"T","g":"P","x":50.9,"y":0.13},{"c":"M","s":"T","g":"P","x":42,"y":0.12},{"c":"M","s":"T","g":"P","x":50.3,"y":0.12},{"c":"M","s":"T","g":"P","x":55.9,"y":0.12},{"c":"M","s":"T","g":"P","x":36.4,"y":0.11},{"c":"M","s":"T","g":"P","x":39.7,"y":0.11},{"c":"M","s":"T","g":"P","x":41.6,"y":0.11},{"c":"M","s":"T","g":"P","x":33.2,"y":0.1},{"c":"M","s":"T","g":"P","x":56.6,"y":0.1},{"c":"M","s":"T","g":"P","x":38.5,"y":0.09},{"c":"M","s":"T","g":"P","x":43,"y":0.09},{"c":"M","s":"T","g":"P","x":37.3,"y":0.08},{"c":"M","s":"T","g":"P","x":39.1,"y":0.08},{"c":"M","s":"T","g":"P","x":46,"y":0.08},{"c":"M","s":"T","g":"P","x":47.2,"y":0.08},{"c":"M","s":"T","g":"P","x":50.9,"y":0.08},{"c":"M","s":"T","g":"P","x":69.3,"y":0.08},{"c":"M","s":"T","g":"P","x":37.3,"y":0.06},{"c":"M","s":"T","g":"P","x":35,"y":0.05},{"c":"M","s":"T","g":"P","x":44.1,"y":0.05},{"c":"M","s":"T","g":"P","x":46,"y":0.05},{"c":"M","s":"T","g":"P","x":47.8,"y":0.05},{"c":"M","s":"T","g":"P","x":74.2,"y":0.05},{"c":"M","s":"T","g":"P","x":42.2,"y":0.04},{"c":"M","s":"T","g":"P","x":44.1,"y":0.04},{"c":"M","s":"T","g":"P","x":63.4,"y":0.04},{"c":"M","s":"T","g":"P","x":44.7,"y":0.03},{"c":"M","s":"T","g":"P","x":52.2,"y":0.03},{"c":"M","s":"T","g":"P","x":65.9,"y":0.03},{"c":"M","s":"T","g":"P","x":63.1,"y":0.02},{"c":"M","s":"T","g":"P","x":66.5,"y":0.02},{"c":"M","s":"T","g":"P","x":30.7,"y":0.01},{"c":"M","s":"T","g":"P","x":40,"y":0.01},{"c":"M","s":"T","g":"P","x":47.5,"y":0.01},

{"c":"B","s":"S","g":"C","x":34.4,"y":0.15},{"c":"B","s":"S","g":"C","x":25.7,"y":0.14},{"c":"B","s":"S","g":"C","x":33.5,"y":0.13},{"c":"B","s":"S","g":"C","x":47.8,"y":0.13},{"c":"B","s":"S","g":"C","x":35.2,"y":0.12},{"c":"B","s":"S","g":"C","x":32.8,"y":0.11},{"c":"B","s":"S","g":"C","x":38.8,"y":0.09},{"c":"B","s":"S","g":"C","x":43.4,"y":0.09},{"c":"B","s":"S","g":"C","x":30.3,"y":0.08},{"c":"B","s":"S","g":"C","x":40.4,"y":0.08},{"c":"B","s":"S","g":"C","x":41.6,"y":0.08},{"c":"B","s":"S","g":"C","x":45,"y":0.08},{"c":"B","s":"S","g":"C","x":40.4,"y":0.07},{"c":"B","s":"S","g":"C","x":52.2,"y":0.07},{"c":"B","s":"S","g":"C","x":53.7,"y":0.07},{"c":"B","s":"S","g":"C","x":31.7,"y":0.06},{"c":"B","s":"S","g":"C","x":41.2,"y":0.06},{"c":"B","s":"S","g":"C","x":42.9,"y":0.06},{"c":"B","s":"S","g":"C","x":44.7,"y":0.06},{"c":"B","s":"S","g":"C","x":46,"y":0.06},{"c":"B","s":"S","g":"C","x":48.4,"y":0.06},{"c":"B","s":"S","g":"C","x":50.3,"y":0.06},{"c":"B","s":"S","g":"C","x":27.3,"y":0.05},{"c":"B","s":"S","g":"C","x":32.3,"y":0.05},{"c":"B","s":"S","g":"C","x":38.3,"y":0.05},{"c":"B","s":"S","g":"C","x":44.1,"y":0.05},{"c":"B","s":"S","g":"C","x":46,"y":0.05},{"c":"B","s":"S","g":"C","x":47.8,"y":0.05},{"c":"B","s":"S","g":"C","x":49.7,"y":0.05},{"c":"B","s":"S","g":"C","x":52.2,"y":0.05},{"c":"B","s":"S","g":"C","x":54.1,"y":0.05},{"c":"B","s":"S","g":"C","x":23.3,"y":0.04},{"c":"B","s":"S","g":"C","x":27.6,"y":0.04},{"c":"B","s":"S","g":"C","x":32.9,"y":0.04},{"c":"B","s":"S","g":"C","x":35.4,"y":0.04},{"c":"B","s":"S","g":"C","x":37.9,"y":0.04},{"c":"B","s":"S","g":"C","x":39.7,"y":0.04},{"c":"B","s":"S","g":"C","x":41.6,"y":0.04},{"c":"B","s":"S","g":"C","x":43.5,"y":0.04},{"c":"B","s":"S","g":"C","x":45.3,"y":0.04},{"c":"B","s":"S","g":"C","x":47.2,"y":0.04},{"c":"B","s":"S","g":"C","x":50.3,"y":0.04},{"c":"B","s":"S","g":"C","x":52.2,"y":0.04},{"c":"B","s":"S","g":"C","x":14,"y":0.03},{"c":"B","s":"S","g":"C","x":19.2,"y":0.03},{"c":"B","s":"S","g":"C","x":24.6,"y":0.03},{"c":"B","s":"S","g":"C","x":28.6,"y":0.03},{"c":"B","s":"S","g":"C","x":30.4,"y":0.03},{"c":"B","s":"S","g":"C","x":32.3,"y":0.03},{"c":"B","s":"S","g":"C","x":34.2,"y":0.03},{"c":"B","s":"S","g":"C","x":37.3,"y":0.03},{"c":"B","s":"S","g":"C","x":40.4,"y":0.03},{"c":"B","s":"S","g":"C","x":42.2,"y":0.03},{"c":"B","s":"S","g":"C","x":44.1,"y":0.03},{"c":"B","s":"S","g":"C","x":46,"y":0.03},{"c":"B","s":"S","g":"C","x":47.8,"y":0.03},{"c":"B","s":"S","g":"C","x":35.6,"y":0.02},{"c":"B","s":"S","g":"C","x":41.9,"y":0.02},{"c":"B","s":"S","g":"C","x":45.2,"y":0.02},{"c":"B","s":"S","g":"C","x":49.7,"y":0.02},
{"c":"B","s":"S","g":"P","x":67.7,"y":0.11},{"c":"B","s":"S","g":"P","x":35.6,"y":0.1},{"c":"B","s":"S","g":"P","x":54.7,"y":0.1},{"c":"B","s":"S","g":"P","x":63.4,"y":0.1},{"c":"B","s":"S","g":"P","x":67.1,"y":0.1},{"c":"B","s":"S","g":"P","x":55,"y":0.09},{"c":"B","s":"S","g":"P","x":55.9,"y":0.09},{"c":"B","s":"S","g":"P","x":38.3,"y":0.08},{"c":"B","s":"S","g":"P","x":51.3,"y":0.08},{"c":"B","s":"S","g":"P","x":60.3,"y":0.08},{"c":"B","s":"S","g":"P","x":44.7,"y":0.07},{"c":"B","s":"S","g":"P","x":46,"y":0.07},{"c":"B","s":"S","g":"P","x":47.8,"y":0.07},{"c":"B","s":"S","g":"P","x":49.1,"y":0.07},{"c":"B","s":"S","g":"P","x":55.9,"y":0.07},{"c":"B","s":"S","g":"P","x":60.9,"y":0.07},{"c":"B","s":"S","g":"P","x":67.7,"y":0.07},{"c":"B","s":"S","g":"P","x":70.2,"y":0.07},{"c":"B","s":"S","g":"P","x":52.4,"y":0.06},{"c":"B","s":"S","g":"P","x":54.4,"y":0.06},{"c":"B","s":"S","g":"P","x":56.5,"y":0.06},{"c":"B","s":"S","g":"P","x":63.1,"y":0.06},{"c":"B","s":"S","g":"P","x":66.2,"y":0.06},{"c":"B","s":"S","g":"P","x":74.9,"y":0.06},{"c":"B","s":"S","g":"P","x":57.1,"y":0.05},{"c":"B","s":"S","g":"P","x":60.3,"y":0.05},{"c":"B","s":"S","g":"P","x":62.7,"y":0.05},{"c":"B","s":"S","g":"P","x":65.8,"y":0.05},{"c":"B","s":"S","g":"P","x":68.3,"y":0.05},{"c":"B","s":"S","g":"P","x":71.4,"y":0.05},{"c":"B","s":"S","g":"P","x":54.7,"y":0.04},{"c":"B","s":"S","g":"P","x":57.1,"y":0.04},{"c":"B","s":"S","g":"P","x":59.6,"y":0.04},{"c":"B","s":"S","g":"P","x":62.7,"y":0.04},{"c":"B","s":"S","g":"P","x":65.8,"y":0.04},{"c":"B","s":"S","g":"P","x":70.2,"y":0.04},{"c":"B","s":"S","g":"P","x":71.1,"y":0.04},{"c":"B","s":"S","g":"P","x":49.7,"y":0.03},{"c":"B","s":"S","g":"P","x":51.6,"y":0.03},{"c":"B","s":"S","g":"P","x":53.4,"y":0.03},{"c":"B","s":"S","g":"P","x":55.3,"y":0.03},{"c":"B","s":"S","g":"P","x":57.8,"y":0.03},{"c":"B","s":"S","g":"P","x":59.6,"y":0.03},{"c":"B","s":"S","g":"P","x":61.5,"y":0.03},{"c":"B","s":"S","g":"P","x":64.6,"y":0.03},{"c":"B","s":"S","g":"P","x":67.7,"y":0.03},{"c":"B","s":"S","g":"P","x":70.6,"y":0.03},{"c":"B","s":"S","g":"P","x":55,"y":0.02},{"c":"B","s":"S","g":"P","x":65.2,"y":0.02},

{"c":"E","s":"S","g":"P","x":64.4,"y":0.27},{"c":"E","s":"S","g":"P","x":61.7,"y":0.25},{"c":"E","s":"S","g":"P","x":51.1,"y":0.23},{"c":"E","s":"S","g":"P","x":61.2,"y":0.23},{"c":"E","s":"S","g":"P","x":56.9,"y":0.22},{"c":"E","s":"S","g":"P","x":62.1,"y":0.22},{"c":"E","s":"S","g":"P","x":63.1,"y":0.22},{"c":"E","s":"S","g":"P","x":79,"y":0.22},{"c":"E","s":"S","g":"P","x":82.4,"y":0.22},{"c":"E","s":"S","g":"P","x":64.2,"y":0.21},{"c":"E","s":"S","g":"P","x":66.5,"y":0.21},{"c":"E","s":"S","g":"P","x":70,"y":0.21},{"c":"E","s":"S","g":"P","x":77,"y":0.21},{"c":"E","s":"S","g":"P","x":78.3,"y":0.21},{"c":"E","s":"S","g":"P","x":54.3,"y":0.2},{"c":"E","s":"S","g":"P","x":59.6,"y":0.2},{"c":"E","s":"S","g":"P","x":68.3,"y":0.2},{"c":"E","s":"S","g":"P","x":82,"y":0.2},{"c":"E","s":"S","g":"P","x":73.3,"y":0.19},{"c":"E","s":"S","g":"P","x":66.1,"y":0.18},{"c":"E","s":"S","g":"P","x":60.9,"y":0.17},{"c":"E","s":"S","g":"P","x":60.3,"y":0.16},{"c":"E","s":"S","g":"P","x":66.5,"y":0.16},{"c":"E","s":"S","g":"P","x":53.4,"y":0.15},{"c":"E","s":"S","g":"P","x":62.7,"y":0.15},{"c":"E","s":"S","g":"P","x":69.6,"y":0.15},{"c":"E","s":"S","g":"P","x":74.5,"y":0.15},{"c":"E","s":"S","g":"P","x":81.4,"y":0.15},{"c":"E","s":"S","g":"P","x":69.6,"y":0.14},{"c":"E","s":"S","g":"P","x":72.7,"y":0.14},{"c":"E","s":"S","g":"P","x":74.5,"y":0.14},{"c":"E","s":"S","g":"P","x":83,"y":0.14},{"c":"E","s":"S","g":"P","x":60.9,"y":0.13},{"c":"E","s":"S","g":"P","x":72.1,"y":0.13},{"c":"E","s":"S","g":"P","x":74.5,"y":0.13},{"c":"E","s":"S","g":"P","x":77,"y":0.13},{"c":"E","s":"S","g":"P","x":81.6,"y":0.13},{"c":"E","s":"S","g":"P","x":86.1,"y":0.13},{"c":"E","s":"S","g":"P","x":54,"y":0.12},{"c":"E","s":"S","g":"P","x":66.5,"y":0.12},{"c":"E","s":"S","g":"P","x":69.6,"y":0.12},{"c":"E","s":"S","g":"P","x":60.3,"y":0.11},{"c":"E","s":"S","g":"P","x":69.6,"y":0.11},{"c":"E","s":"S","g":"P","x":71.4,"y":0.11},{"c":"E","s":"S","g":"P","x":73.3,"y":0.11},{"c":"E","s":"S","g":"P","x":76.4,"y":0.11},{"c":"E","s":"S","g":"P","x":92.3,"y":0.11},{"c":"E","s":"S","g":"P","x":59,"y":0.1},{"c":"E","s":"S","g":"P","x":79.8,"y":0.1},{"c":"E","s":"S","g":"P","x":77.7,"y":0.08},
{"c":"E","s":"S","g":"C","x":45.1,"y":0.23},{"c":"E","s":"S","g":"C","x":47.2,"y":0.23},{"c":"E","s":"S","g":"C","x":74.1,"y":0.23},{"c":"E","s":"S","g":"C","x":75.2,"y":0.23},{"c":"E","s":"S","g":"C","x":40.6,"y":0.22},{"c":"E","s":"S","g":"C","x":65.2,"y":0.22},{"c":"E","s":"S","g":"C","x":66.2,"y":0.22},{"c":"E","s":"S","g":"C","x":68.1,"y":0.22},{"c":"E","s":"S","g":"C","x":40.7,"y":0.2},{"c":"E","s":"S","g":"C","x":42,"y":0.2},{"c":"E","s":"S","g":"C","x":49,"y":0.2},{"c":"E","s":"S","g":"C","x":65.2,"y":0.2},{"c":"E","s":"S","g":"C","x":70.8,"y":0.2},{"c":"E","s":"S","g":"C","x":73.9,"y":0.2},{"c":"E","s":"S","g":"C","x":43.8,"y":0.19},{"c":"E","s":"S","g":"C","x":53.2,"y":0.19},{"c":"E","s":"S","g":"C","x":55.5,"y":0.19},{"c":"E","s":"S","g":"C","x":48.1,"y":0.18},{"c":"E","s":"S","g":"C","x":53.9,"y":0.18},{"c":"E","s":"S","g":"C","x":26.8,"y":0.17},{"c":"E","s":"S","g":"C","x":59.6,"y":0.17},{"c":"E","s":"S","g":"C","x":78.5,"y":0.17},{"c":"E","s":"S","g":"C","x":34.2,"y":0.16},{"c":"E","s":"S","g":"C","x":36,"y":0.16},{"c":"E","s":"S","g":"C","x":37.9,"y":0.16},{"c":"E","s":"S","g":"C","x":39.7,"y":0.16},{"c":"E","s":"S","g":"C","x":41.6,"y":0.16},{"c":"E","s":"S","g":"C","x":43.5,"y":0.16},{"c":"E","s":"S","g":"C","x":45.3,"y":0.16},{"c":"E","s":"S","g":"C","x":52.8,"y":0.16},{"c":"E","s":"S","g":"C","x":54.7,"y":0.16},{"c":"E","s":"S","g":"C","x":56.5,"y":0.16},{"c":"E","s":"S","g":"C","x":63.4,"y":0.16},{"c":"E","s":"S","g":"C","x":38.8,"y":0.15},{"c":"E","s":"S","g":"C","x":46,"y":0.15},{"c":"E","s":"S","g":"C","x":47.8,"y":0.15},{"c":"E","s":"S","g":"C","x":56.9,"y":0.15},{"c":"E","s":"S","g":"C","x":58.4,"y":0.15},{"c":"E","s":"S","g":"C","x":44.5,"y":0.14},{"c":"E","s":"S","g":"C","x":65.6,"y":0.14},{"c":"E","s":"S","g":"C","x":41.5,"y":0.13},{"c":"E","s":"S","g":"C","x":65.8,"y":0.13},{"c":"E","s":"S","g":"C","x":67.7,"y":0.13},{"c":"E","s":"S","g":"C","x":69.3,"y":0.13},{"c":"E","s":"S","g":"C","x":49.4,"y":0.12},{"c":"E","s":"S","g":"C","x":55.9,"y":0.12},{"c":"E","s":"S","g":"C","x":57.8,"y":0.12},{"c":"E","s":"S","g":"C","x":59.6,"y":0.12},{"c":"E","s":"S","g":"C","x":63.4,"y":0.12},{"c":"E","s":"S","g":"C","x":73,"y":0.12},{"c":"E","s":"S","g":"C","x":75.8,"y":0.12},{"c":"E","s":"S","g":"C","x":50.7,"y":0.11},{"c":"E","s":"S","g":"C","x":52.5,"y":0.11},{"c":"E","s":"S","g":"C","x":54.4,"y":0.11},{"c":"E","s":"S","g":"C","x":56.3,"y":0.11},{"c":"E","s":"S","g":"C","x":65.6,"y":0.11},{"c":"E","s":"S","g":"C","x":67.1,"y":0.11},{"c":"E","s":"S","g":"C","x":53.4,"y":0.1},{"c":"E","s":"S","g":"C","x":54.7,"y":0.1},{"c":"E","s":"S","g":"C","x":56.5,"y":0.1},

{"c":"K","s":"S","g":"P","x":77.4,"y":0.3},{"c":"K","s":"S","g":"P","x":61.5,"y":0.19},{"c":"K","s":"S","g":"P","x":75.2,"y":0.17},{"c":"K","s":"S","g":"P","x":51.8,"y":0.16},{"c":"K","s":"S","g":"P","x":76.1,"y":0.15},{"c":"K","s":"S","g":"P","x":78.3,"y":0.15},{"c":"K","s":"S","g":"P","x":47.5,"y":0.14},{"c":"K","s":"S","g":"P","x":61.5,"y":0.14},{"c":"K","s":"S","g":"P","x":69.8,"y":0.14},{"c":"K","s":"S","g":"P","x":49.7,"y":0.13},{"c":"K","s":"S","g":"P","x":66.7,"y":0.13},{"c":"K","s":"S","g":"P","x":73.3,"y":0.13},{"c":"K","s":"S","g":"P","x":77,"y":0.13},{"c":"K","s":"S","g":"P","x":55.9,"y":0.12},{"c":"K","s":"S","g":"P","x":57.8,"y":0.12},{"c":"K","s":"S","g":"P","x":59.6,"y":0.12},{"c":"K","s":"S","g":"P","x":73.6,"y":0.12},{"c":"K","s":"S","g":"P","x":80.5,"y":0.12},{"c":"K","s":"S","g":"P","x":42.5,"y":0.11},{"c":"K","s":"S","g":"P","x":51.6,"y":0.11},{"c":"K","s":"S","g":"P","x":63.4,"y":0.11},{"c":"K","s":"S","g":"P","x":66.5,"y":0.11},{"c":"K","s":"S","g":"P","x":69.6,"y":0.11},{"c":"K","s":"S","g":"P","x":72.1,"y":0.11},{"c":"K","s":"S","g":"P","x":74.5,"y":0.11},{"c":"K","s":"S","g":"P","x":78.3,"y":0.11},{"c":"K","s":"S","g":"P","x":80.8,"y":0.11},{"c":"K","s":"S","g":"P","x":85.5,"y":0.11},{"c":"K","s":"S","g":"P","x":43.5,"y":0.1},{"c":"K","s":"S","g":"P","x":52.8,"y":0.1},{"c":"K","s":"S","g":"P","x":59.6,"y":0.1},{"c":"K","s":"S","g":"P","x":60.9,"y":0.1},{"c":"K","s":"S","g":"P","x":67.7,"y":0.1},{"c":"K","s":"S","g":"P","x":70.8,"y":0.1},{"c":"K","s":"S","g":"P","x":72.7,"y":0.1},{"c":"K","s":"S","g":"P","x":76.8,"y":0.1},{"c":"K","s":"S","g":"P","x":78.5,"y":0.1},{"c":"K","s":"S","g":"P","x":80.2,"y":0.1},{"c":"K","s":"S","g":"P","x":50.9,"y":0.09},{"c":"K","s":"S","g":"P","x":52.8,"y":0.09},{"c":"K","s":"S","g":"P","x":59,"y":0.09},{"c":"K","s":"S","g":"P","x":60.9,"y":0.09},{"c":"K","s":"S","g":"P","x":67.1,"y":0.09},{"c":"K","s":"S","g":"P","x":78.9,"y":0.09},{"c":"K","s":"S","g":"P","x":81.4,"y":0.09},{"c":"K","s":"S","g":"P","x":60.6,"y":0.08},{"c":"K","s":"S","g":"P","x":62.1,"y":0.08},{"c":"K","s":"S","g":"P","x":75.2,"y":0.08},{"c":"K","s":"S","g":"P","x":58.4,"y":0.07},{"c":"K","s":"S","g":"P","x":59,"y":0.07},{"c":"K","s":"S","g":"P","x":75.2,"y":0.07},{"c":"K","s":"S","g":"P","x":76.4,"y":0.07},{"c":"K","s":"S","g":"P","x":82,"y":0.07},{"c":"K","s":"S","g":"P","x":53.4,"y":0.06},{"c":"K","s":"S","g":"P","x":57.1,"y":0.06},{"c":"K","s":"S","g":"P","x":70.2,"y":0.06},{"c":"K","s":"S","g":"P","x":74.2,"y":0.06},{"c":"K","s":"S","g":"P","x":45,"y":0.05},{"c":"K","s":"S","g":"P","x":69,"y":0.05},{"c":"K","s":"S","g":"P","x":65.6,"y":0.04},
{"c":"K","s":"S","g":"C","x":34.7,"y":0.17},{"c":"K","s":"S","g":"C","x":28.6,"y":0.15},{"c":"K","s":"S","g":"C","x":30.4,"y":0.15},{"c":"K","s":"S","g":"C","x":34.5,"y":0.15},{"c":"K","s":"S","g":"C","x":37.3,"y":0.15},{"c":"K","s":"S","g":"C","x":23,"y":0.14},{"c":"K","s":"S","g":"C","x":30.4,"y":0.14},{"c":"K","s":"S","g":"C","x":39.7,"y":0.14},{"c":"K","s":"S","g":"C","x":53.4,"y":0.14},{"c":"K","s":"S","g":"C","x":54.9,"y":0.14},{"c":"K","s":"S","g":"C","x":23,"y":0.13},{"c":"K","s":"S","g":"C","x":30.8,"y":0.13},{"c":"K","s":"S","g":"C","x":52.2,"y":0.13},{"c":"K","s":"S","g":"C","x":54.7,"y":0.13},{"c":"K","s":"S","g":"C","x":59.3,"y":0.13},{"c":"K","s":"S","g":"C","x":30.4,"y":0.12},{"c":"K","s":"S","g":"C","x":43.8,"y":0.12},{"c":"K","s":"S","g":"C","x":26.3,"y":0.11},{"c":"K","s":"S","g":"C","x":29.6,"y":0.11},{"c":"K","s":"S","g":"C","x":32.3,"y":0.11},{"c":"K","s":"S","g":"C","x":36.6,"y":0.11},{"c":"K","s":"S","g":"C","x":39.1,"y":0.11},{"c":"K","s":"S","g":"C","x":47.5,"y":0.11},{"c":"K","s":"S","g":"C","x":60.6,"y":0.11},{"c":"K","s":"S","g":"C","x":23.3,"y":0.1},{"c":"K","s":"S","g":"C","x":25.1,"y":0.1},{"c":"K","s":"S","g":"C","x":27,"y":0.1},{"c":"K","s":"S","g":"C","x":28.6,"y":0.1},{"c":"K","s":"S","g":"C","x":32.3,"y":0.1},{"c":"K","s":"S","g":"C","x":35,"y":0.1},{"c":"K","s":"S","g":"C","x":37.9,"y":0.1},{"c":"K","s":"S","g":"C","x":40.4,"y":0.1},{"c":"K","s":"S","g":"C","x":48.4,"y":0.1},{"c":"K","s":"S","g":"C","x":21.1,"y":0.09},{"c":"K","s":"S","g":"C","x":24.6,"y":0.09},{"c":"K","s":"S","g":"C","x":27.6,"y":0.09},{"c":"K","s":"S","g":"C","x":32.3,"y":0.09},{"c":"K","s":"S","g":"C","x":35.8,"y":0.09},{"c":"K","s":"S","g":"C","x":43.2,"y":0.09},{"c":"K","s":"S","g":"C","x":44.7,"y":0.09},{"c":"K","s":"S","g":"C","x":46.6,"y":0.09},{"c":"K","s":"S","g":"C","x":64,"y":0.09},{"c":"K","s":"S","g":"C","x":22.1,"y":0.08},{"c":"K","s":"S","g":"C","x":24.8,"y":0.08},{"c":"K","s":"S","g":"C","x":27.1,"y":0.08},{"c":"K","s":"S","g":"C","x":29.2,"y":0.08},{"c":"K","s":"S","g":"C","x":31,"y":0.08},{"c":"K","s":"S","g":"C","x":32.9,"y":0.08},{"c":"K","s":"S","g":"C","x":34.8,"y":0.08},{"c":"K","s":"S","g":"C","x":36.6,"y":0.08},{"c":"K","s":"S","g":"C","x":38.5,"y":0.08},{"c":"K","s":"S","g":"C","x":40.4,"y":0.08},{"c":"K","s":"S","g":"C","x":42.2,"y":0.08},{"c":"K","s":"S","g":"C","x":56.5,"y":0.08},{"c":"K","s":"S","g":"C","x":58.4,"y":0.08},{"c":"K","s":"S","g":"C","x":64,"y":0.08},{"c":"K","s":"S","g":"C","x":65.8,"y":0.08},{"c":"K","s":"S","g":"C","x":67.7,"y":0.08},{"c":"K","s":"S","g":"C","x":69.6,"y":0.08},{"c":"K","s":"S","g":"C","x":23.9,"y":0.07},{"c":"K","s":"S","g":"C","x":31,"y":0.07},{"c":"K","s":"S","g":"C","x":32,"y":0.07},{"c":"K","s":"S","g":"C","x":36,"y":0.07},{"c":"K","s":"S","g":"C","x":39.1,"y":0.07},{"c":"K","s":"S","g":"C","x":46,"y":0.07},{"c":"K","s":"S","g":"C","x":54,"y":0.07},{"c":"K","s":"S","g":"C","x":67.5,"y":0.07},{"c":"K","s":"S","g":"C","x":26.7,"y":0.06},{"c":"K","s":"S","g":"C","x":30.4,"y":0.06},{"c":"K","s":"S","g":"C","x":36.8,"y":0.06},{"c":"K","s":"S","g":"C","x":44.2,"y":0.06},{"c":"K","s":"S","g":"C","x":67.7,"y":0.06},{"c":"K","s":"S","g":"C","x":32,"y":0.05},{"c":"K","s":"S","g":"C","x":61.7,"y":0.05},

{"c":"M","s":"S","g":"P","x":55.7,"y":0.3},{"c":"M","s":"S","g":"P","x":45.3,"y":0.29},{"c":"M","s":"S","g":"P","x":61.4,"y":0.23},{"c":"M","s":"S","g":"P","x":45,"y":0.21},{"c":"M","s":"S","g":"P","x":39.1,"y":0.18},{"c":"M","s":"S","g":"P","x":44.6,"y":0.18},{"c":"M","s":"S","g":"P","x":55.4,"y":0.18},{"c":"M","s":"S","g":"P","x":54.2,"y":0.16},{"c":"M","s":"S","g":"P","x":45.1,"y":0.15},{"c":"M","s":"S","g":"P","x":42.2,"y":0.14},{"c":"M","s":"S","g":"P","x":44.1,"y":0.14},{"c":"M","s":"S","g":"P","x":39.5,"y":0.13},{"c":"M","s":"S","g":"P","x":42.2,"y":0.12},{"c":"M","s":"S","g":"P","x":62.1,"y":0.11},{"c":"M","s":"S","g":"P","x":28.9,"y":0.1},{"c":"M","s":"S","g":"P","x":47.8,"y":0.1},{"c":"M","s":"S","g":"P","x":33.9,"y":0.09},{"c":"M","s":"S","g":"P","x":45.3,"y":0.09},{"c":"M","s":"S","g":"P","x":59.6,"y":0.09},{"c":"M","s":"S","g":"P","x":61.5,"y":0.09},{"c":"M","s":"S","g":"P","x":63.1,"y":0.09},{"c":"M","s":"S","g":"P","x":39.1,"y":0.08},{"c":"M","s":"S","g":"P","x":46,"y":0.06},{"c":"M","s":"S","g":"P","x":73.6,"y":0.06},{"c":"M","s":"S","g":"P","x":37.9,"y":0.05},{"c":"M","s":"S","g":"P","x":42.2,"y":0.05},{"c":"M","s":"S","g":"P","x":47.2,"y":0.05},{"c":"M","s":"S","g":"P","x":49.7,"y":0.05},{"c":"M","s":"S","g":"P","x":41.6,"y":0.04},{"c":"M","s":"S","g":"P","x":50.3,"y":0.04},{"c":"M","s":"S","g":"P","x":52.2,"y":0.04},{"c":"M","s":"S","g":"P","x":65.9,"y":0.04},{"c":"M","s":"S","g":"P","x":34.8,"y":0.03},{"c":"M","s":"S","g":"P","x":47,"y":0.03},{"c":"M","s":"S","g":"P","x":69.3,"y":0.03},{"c":"M","s":"S","g":"P","x":30.7,"y":0.02},{"c":"M","s":"S","g":"P","x":35.4,"y":0.02},{"c":"M","s":"S","g":"P","x":37.9,"y":0.02},{"c":"M","s":"S","g":"P","x":44.1,"y":0.02},{"c":"M","s":"S","g":"P","x":46,"y":0.02},{"c":"M","s":"S","g":"P","x":47.8,"y":0.02},{"c":"M","s":"S","g":"P","x":57.5,"y":0.02},{"c":"M","s":"S","g":"P","x":60.3,"y":0.02},{"c":"M","s":"S","g":"P","x":63.1,"y":0.02},{"c":"M","s":"S","g":"P","x":69.3,"y":0.02},{"c":"M","s":"S","g":"P","x":74.2,"y":0.02},{"c":"M","s":"S","g":"P","x":37.5,"y":0.01},{"c":"M","s":"S","g":"P","x":58.6,"y":0.01},{"c":"M","s":"S","g":"P","x":62.1,"y":0.01},{"c":"M","s":"S","g":"P","x":66.1,"y":0.01},{"c":"M","s":"S","g":"P","x":54.2,"y":0},
{"c":"M","s":"S","g":"C","x":52.1,"y":0.28},{"c":"M","s":"S","g":"C","x":49.2,"y":0.24},{"c":"M","s":"S","g":"C","x":51.8,"y":0.21},{"c":"M","s":"S","g":"C","x":55.5,"y":0.17},{"c":"M","s":"S","g":"C","x":57.1,"y":0.17},{"c":"M","s":"S","g":"C","x":50.8,"y":0.16},{"c":"M","s":"S","g":"C","x":47.5,"y":0.15},{"c":"M","s":"S","g":"C","x":35.6,"y":0.14},{"c":"M","s":"S","g":"C","x":61.4,"y":0.14},{"c":"M","s":"S","g":"C","x":34.4,"y":0.13},{"c":"M","s":"S","g":"C","x":44.5,"y":0.13},{"c":"M","s":"S","g":"C","x":47.2,"y":0.13},{"c":"M","s":"S","g":"C","x":59.5,"y":0.13},{"c":"M","s":"S","g":"C","x":43.7,"y":0.12},{"c":"M","s":"S","g":"C","x":47.2,"y":0.12},{"c":"M","s":"S","g":"C","x":32.3,"y":0.11},{"c":"M","s":"S","g":"C","x":41.9,"y":0.11},{"c":"M","s":"S","g":"C","x":50.7,"y":0.11},{"c":"M","s":"S","g":"C","x":36.9,"y":0.1},{"c":"M","s":"S","g":"C","x":38.5,"y":0.1},{"c":"M","s":"S","g":"C","x":29.3,"y":0.09},{"c":"M","s":"S","g":"C","x":48.4,"y":0.09},{"c":"M","s":"S","g":"C","x":50.3,"y":0.09},{"c":"M","s":"S","g":"C","x":55.9,"y":0.09},{"c":"M","s":"S","g":"C","x":59.6,"y":0.08},{"c":"M","s":"S","g":"C","x":61.7,"y":0.08},{"c":"M","s":"S","g":"C","x":63.4,"y":0.08},{"c":"M","s":"S","g":"C","x":32.9,"y":0.07},{"c":"M","s":"S","g":"C","x":49.7,"y":0.07},{"c":"M","s":"S","g":"C","x":38.5,"y":0.06},{"c":"M","s":"S","g":"C","x":48.7,"y":0.06},{"c":"M","s":"S","g":"C","x":54.7,"y":0.05},{"c":"M","s":"S","g":"C","x":56.7,"y":0.05},{"c":"M","s":"S","g":"C","x":29.8,"y":0.04},{"c":"M","s":"S","g":"C","x":32.9,"y":0.04},{"c":"M","s":"S","g":"C","x":37,"y":0.04},{"c":"M","s":"S","g":"C","x":44.7,"y":0.04},{"c":"M","s":"S","g":"C","x":47.2,"y":0.04},{"c":"M","s":"S","g":"C","x":54.7,"y":0.04},{"c":"M","s":"S","g":"C","x":59,"y":0.04},{"c":"M","s":"S","g":"C","x":64,"y":0.04},{"c":"M","s":"S","g":"C","x":26.1,"y":0.03},{"c":"M","s":"S","g":"C","x":40.7,"y":0.03},{"c":"M","s":"S","g":"C","x":42.2,"y":0.03},{"c":"M","s":"S","g":"C","x":44.1,"y":0.03},{"c":"M","s":"S","g":"C","x":50.3,"y":0.03},{"c":"M","s":"S","g":"C","x":53.4,"y":0.03},{"c":"M","s":"S","g":"C","x":58.1,"y":0.03},{"c":"M","s":"S","g":"C","x":61.5,"y":0.03},{"c":"M","s":"S","g":"C","x":40.7,"y":0.02},{"c":"M","s":"S","g":"C","x":49.7,"y":0.02},{"c":"M","s":"S","g":"C","x":51.6,"y":0.02},{"c":"M","s":"S","g":"C","x":53.4,"y":0.02},{"c":"M","s":"S","g":"C","x":55,"y":0.02},{"c":"M","s":"S","g":"C","x":31.9,"y":0.01},{"c":"M","s":"S","g":"C","x":41.6,"y":0.01},{"c":"M","s":"S","g":"C","x":43.5,"y":0.01},{"c":"M","s":"S","g":"C","x":45.3,"y":0.01},{"c":"M","s":"S","g":"C","x":47.2,"y":0.01},{"c":"M","s":"S","g":"C","x":56.2,"y":0.01},{"c":"M","s":"S","g":"C","x":41.9,"y":0},{"c":"M","s":"S","g":"C","x":62.6,"y":0}
]},
"facet": {
 "row": {"field": "s", "type": "nominal", "sort": ["T", "S"], "header": {"labels": false, "labelPadding": 0, "title": "Total Nitrogen Content (%)", "titleOrient": "left", "titlePadding": -2}},
 "column": {"field": "c", "type": "nominal", "sort": ["B", "E", "K", "M"], "header": {"labels": false, "labelPadding": 0, "title": "Total CAET Score", "titleOrient": "bottom", "titlePadding": -2}}
},
"spec": {
 "width": 295,
 "height": 415,
 "layer": [
  {
   "transform": [{"filter": "datum.t === 'b'"}],
   "mark": {"type": "rect", "opacity": 0.85},
   "encoding": {
    "x": {"datum": 0, "type": "quantitative", "title": null, "scale": {"domain": [-5, 105], "nice": false, "zero": false},
      "axis": {"title": null, "values": [0, 12.5, 25, 37.5, 50, 62.5, 75, 87.5, 100], "labelExpr": "datum.value % 25 === 0 ? datum.label : ''",
        "tickOpacity": {"condition": {"test": "datum.value % 25 === 0", "value": 1}, "value": 0},
        "gridWidth": {"condition": {"test": "datum.value % 25 === 0", "value": 1.1}, "value": 0.6}}},
    "x2": {"datum": 100},
    "y": {"field": "y1", "type": "quantitative", "title": null, "scale": {"domain": [-0.0175, 0.3675], "nice": false, "zero": false},
      "axis": {"title": null, "values": [0, 0.05, 0.1, 0.15, 0.2, 0.25, 0.3, 0.35], "labelExpr": "round(datum.value * 100) % 10 === 0 ? format(datum.value, '.1f') : ''",
        "tickOpacity": {"condition": {"test": "round(datum.value * 100) % 10 === 0", "value": 1}, "value": 0},
        "gridWidth": {"condition": {"test": "round(datum.value * 100) % 10 === 0", "value": 1.1}, "value": 0.6}}},
    "y2": {"field": "y2"},
    "fill": {"field": "lv", "type": "nominal",
      "scale": {"domain": ["Very Low", "Low", "Optimum", "High"], "range": ["#F6BCD2", "#E6C2A0", "#87C888", "#CBF6CB"]},
      "legend": {"orient": "none", "legendX": 583, "legendY": -134, "title": "Nitrogen Level", "titleOrient": "left", "titleAnchor": "middle", "titleBaseline": "middle",
        "titleFontSize": 20, "titleFontWeight": "normal", "titlePadding": 12, "direction": "horizontal", "columns": 2, "symbolType": "square", "symbolSize": 841, "symbolStrokeWidth": 0,
        "labelFontSize": 16, "labelOffset": 11, "rowPadding": 12, "columnPadding": 10}}
   }
  },
  {
   "transform": [{"filter": "!datum.t"}],
   "mark": {"type": "circle", "size": 36, "opacity": 0.6},
   "encoding": {
    "x": {"field": "x", "type": "quantitative", "title": null},
    "y": {"field": "y", "type": "quantitative", "title": null},
    "color": {"condition": {"test": "datum.g === 'C'", "value": "#000000"}, "value": "#0B7F0B"}
   }
  },
  {
   "transform": [{"filter": "datum.t === 'l'"}],
   "mark": {"type": "line", "strokeWidth": 6, "interpolate": "monotone"},
   "encoding": {
    "x": {"field": "x", "type": "quantitative", "title": null},
    "y": {"field": "y", "type": "quantitative", "title": null},
    "color": {"field": "g", "type": "nominal", "scale": {"domain": ["C", "P"], "range": ["#000000", "#006400"]},
      "legend": {"orient": "none", "legendX": 197, "legendY": -136, "title": null, "direction": "horizontal", "columns": 2,
        "labelExpr": "datum.label === 'C' ? 'Comparison group' : 'ProSoils'", "symbolType": "stroke", "symbolStrokeWidth": 7, "symbolSize": 900,
        "labelFontSize": 20, "labelLimit": 300, "labelOffset": 4, "columnPadding": 14}}
   }
  },
  {
   "transform": [{"filter": "datum.t === 'st'"}],
   "mark": {"type": "rect", "fill": "#D9D9D9", "stroke": "#333333", "strokeWidth": 1},
   "encoding": {"x": {"datum": -5, "type": "quantitative"}, "x2": {"datum": 105}, "y": {"datum": 0.3675, "type": "quantitative"}, "y2": {"datum": 0.397}}
  },
  {
   "transform": [{"filter": "datum.t === 'st'"}],
   "mark": {"type": "text", "fontSize": 15, "color": "#1A1A1A", "baseline": "middle", "align": "center"},
   "encoding": {"x": {"datum": 50, "type": "quantitative"}, "y": {"datum": 0.3822, "type": "quantitative"}, "text": {"field": "lab"}}
  },
  {
   "transform": [{"filter": "datum.t === 'sr'"}],
   "mark": {"type": "rect", "fill": "#D9D9D9", "stroke": "#333333", "strokeWidth": 1},
   "encoding": {"x": {"datum": 105, "type": "quantitative"}, "x2": {"datum": 116.6}, "y": {"datum": -0.0175, "type": "quantitative"}, "y2": {"datum": 0.3675}}
  },
  {
   "transform": [{"filter": "datum.t === 'sr'"}],
   "mark": {"type": "text", "fontSize": 15, "color": "#1A1A1A", "baseline": "middle", "align": "center", "angle": 90},
   "encoding": {"x": {"datum": 110.8, "type": "quantitative"}, "y": {"datum": 0.175, "type": "quantitative"}, "text": {"field": "lab"}}
  }
 ]
}
}
